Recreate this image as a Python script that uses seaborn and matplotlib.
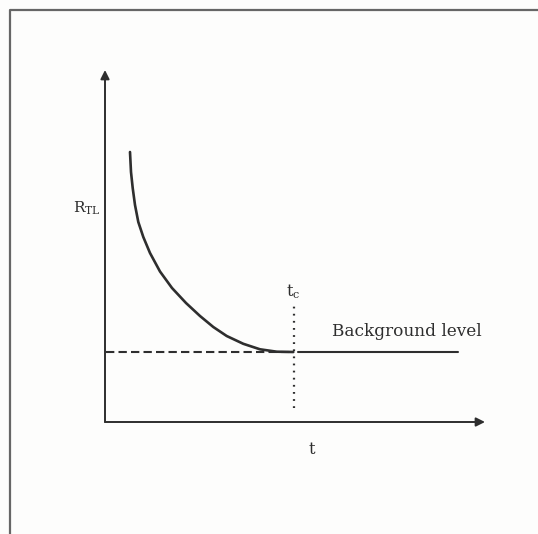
import matplotlib
matplotlib.use("Agg")
import matplotlib.pyplot as plt
import seaborn as sns
import pandas as pd

sns.set_theme(style="white")
plt.rcParams["font.family"] = ["DejaVu Serif"]
plt.rcParams["mathtext.fontset"] = "dejavuserif"

# Decay of the TL ratio with time, levelling off at the background level
t_vals = [0.25, 0.26, 0.277, 0.30, 0.333, 0.383, 0.45, 0.55, 0.67, 0.81,
          0.95, 1.083, 1.217, 1.383, 1.55, 1.717, 1.883]
r_vals = [2.70, 2.50, 2.34, 2.17, 2.00, 1.85, 1.69, 1.505, 1.34, 1.19,
          1.06, 0.95, 0.86, 0.782, 0.727, 0.703, 0.70]
background = 0.70
t_c = 1.89
t_end = 3.53
x_axis_len = 3.80
y_axis_len = 3.52

ink = "#2e2e2e"
curve = pd.DataFrame({"t": t_vals, "R": r_vals})

fig = plt.figure(figsize=(5.38, 5.34), dpi=100, facecolor="#fdfdfc")
ax = fig.add_axes([0, 0, 1, 1])
ax.set_facecolor("#fdfdfc")
ax.set_xlim(-1.05, 4.33)
ax.set_ylim(-1.12, 4.22)
ax.axis("off")

# page frame
ax.plot([0.018, 0.018, 1.0], [0.0, 0.981, 0.981], transform=ax.transAxes,
        color="#666666", lw=1.6, solid_capstyle="butt", clip_on=False)

# axes with arrow heads
arrow = dict(arrowstyle="-|>", color=ink, lw=1.4, mutation_scale=13,
             shrinkA=0, shrinkB=0)
ax.annotate("", xy=(x_axis_len, 0), xytext=(0, 0), arrowprops=arrow)
ax.annotate("", xy=(0, y_axis_len), xytext=(0, 0), arrowprops=arrow)

# decay curve
sns.lineplot(data=curve, x="t", y="R", ax=ax, color=ink, lw=1.9,
             estimator=None, sort=False, legend=False,
             solid_joinstyle="round", solid_capstyle="round")

# background level: dashed up to t_c, solid beyond
ax.plot([0.01, t_c], [background, background], color=ink, lw=1.5,
        linestyle=(0, (4, 2)))
ax.plot([t_c + 0.04, t_end], [background, background], color=ink, lw=1.5)

# t_c marker
ax.plot([t_c, t_c], [0.14, 1.19], color=ink, lw=1.6, linestyle=(0, (0.8, 2.4)))

# labels
ax.text(-0.18, 2.14, r"R$_{\mathrm{TL}}$", fontsize=11, color=ink,
        ha="center", va="center")
ax.text(t_c - 0.01, 1.30, r"t$_{\mathrm{c}}$", fontsize=11.5, color=ink,
        ha="center", va="center")
ax.text(2.27, 0.90, "Background level", fontsize=12.2, color=ink,
        ha="left", va="center")
ax.text(2.07, -0.27, "t", fontsize=11.5, color=ink, ha="center", va="center")

fig.savefig("out.png", dpi=100, facecolor=fig.get_facecolor())
